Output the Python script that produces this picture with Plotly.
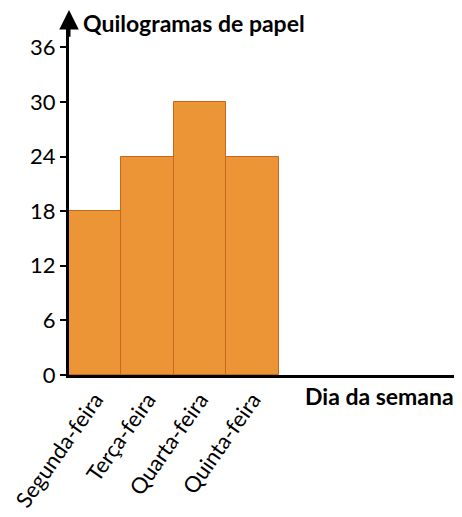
import plotly.graph_objects as go

days = ["Segunda-feira", "Terça-feira", "Quarta-feira", "Quinta-feira"]
kilos = [18, 24, 30, 24]
y_ticks = [0, 6, 12, 18, 24, 30, 36]

FONT = "Lato"
x_pos = list(range(len(days)))

fig = go.Figure()
fig.add_trace(go.Bar(
    x=x_pos, y=kilos, width=1.0,
    marker=dict(color="#EC9536", line=dict(color="#C8661A", width=1)),
    showlegend=False,
))

# the page body adds an 8px offset; figure size and margins compensate for it
fig.update_layout(
    width=454, height=509,
    margin=dict(l=61, r=2, t=12, b=142),
    paper_bgcolor="white", plot_bgcolor="white",
    bargap=0,
    xaxis=dict(
        range=[-0.5, 6.95], tickmode="array", tickvals=x_pos, ticktext=days,
        tickangle=-55, showgrid=False, zeroline=False, automargin=False,
        showline=True, linecolor="black", linewidth=3,
        ticks="", ticklabelstandoff=0,
        tickfont=dict(family=FONT, size=22, color="black"),
    ),
    yaxis=dict(
        range=[0, 39], tickmode="array", tickvals=y_ticks,
        showgrid=False, zeroline=False, automargin=False,
        showline=True, linecolor="black", linewidth=3,
        ticks="outside", ticklen=6, tickwidth=2, tickcolor="black",
        tickfont=dict(family=FONT, size=22, color="black"),
    ),
    annotations=[
        dict(x=-0.5, y=40.1, ax=-0.5, ay=37, xref="x", yref="y", axref="x", ayref="y",
             showarrow=True, arrowhead=2, arrowsize=1.3, arrowwidth=3, arrowcolor="black", text=""),
        dict(x=0.0, y=1.0, xref="paper", yref="paper", xshift=12, yshift=-3,
             xanchor="left", yanchor="middle", showarrow=False,
             text="<b>Quilogramas de papel</b>", font=dict(family=FONT, size=23, color="black")),
        dict(x=1.0, y=0.0, xref="paper", yref="paper", xshift=-4, yshift=-21,
             xanchor="right", yanchor="middle", showarrow=False,
             text="<b>Dia da semana</b>", font=dict(family=FONT, size=23, color="black")),
    ],
)

fig.write_html("out.html")
